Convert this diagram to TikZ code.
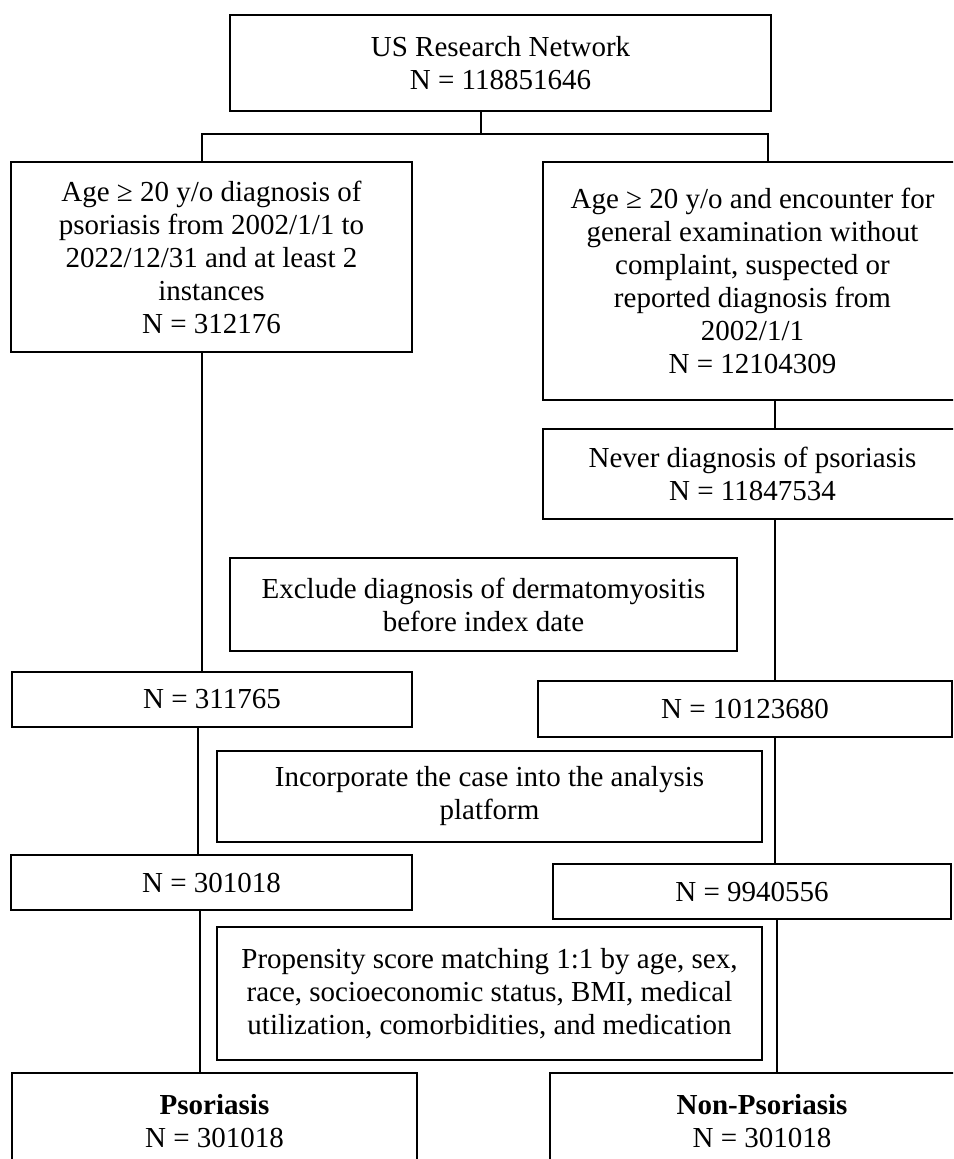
\documentclass[tikz,border=0pt]{standalone}
\usepackage{fontspec}
\setmainfont{Liberation Serif}
\usetikzlibrary{positioning,calc}

\begin{document}
\begin{tikzpicture}[
    x=1pt, y=-1pt,
    box/.style={
      rectangle, draw=black, line width=2pt, fill=white,
      align=center, inner sep=0pt,
      font=\fontsize{29}{33}\selectfont
    },
    link/.style={draw=black, line width=1.8pt}
  ]

  %% Page frame
  \useasboundingbox (0,0) rectangle (953,1159);
  \clip (0,0) rectangle (953,1159);

  %% Column guides
  \coordinate (fork) at (481,134);
  \coordinate (lxa) at (202,0);
  \coordinate (lxb) at (198,0);
  \coordinate (lxc) at (200,0);
  \coordinate (rxa) at (768,0);
  \coordinate (rxb) at (775,0);
  \coordinate (rxc) at (777,0);

  %% Source
  \node[box, minimum width=541, minimum height=96] (us) at (500.5,63)
    {US Research Network\\N = 118851646};

  %% Cohorts
  \node[box, minimum width=401, minimum height=190] (ps) at (211.5,257)
    {Age ≥ 20 y/o diagnosis of\\psoriasis from 2002/1/1 to\\2022/12/31 and at least 2\\instances\\N = 312176};
  \node[box, minimum width=419, minimum height=238] (ctrl) at (752.5,281)
    {Age ≥ 20 y/o and encounter for\\general examination without\\complaint, suspected or\\reported diagnosis from\\2002/1/1\\N = 12104309};
  \node[box, minimum width=419, minimum height=90] (never) at (752.5,474)
    {Never diagnosis of psoriasis\\N = 11847534};

  %% Exclusion step
  \node[box, minimum width=507, minimum height=93] (excl) at (483.5,604.5)
    {Exclude diagnosis of dermatomyositis\\before index date};
  \node[box, minimum width=400, minimum height=55] (nla) at (212,699.5)
    {N = 311765};
  \node[box, minimum width=414, minimum height=56] (nra) at (745,709)
    {N = 10123680};

  %% Platform step
  \node[box, minimum width=545, minimum height=91] (incl) at (489.5,796.5)
    {Incorporate the case into the analysis\\platform};
  \node[box, minimum width=401, minimum height=55] (nlb) at (211.5,882.5)
    {N = 301018};
  \node[box, minimum width=398, minimum height=55] (nrb) at (752,891.5)
    {N = 9940556};

  %% Matching step
  \node[box, minimum width=545, minimum height=133] (psm) at (489.5,993.5)
    {Propensity score matching 1:1 by age, sex,\\race, socioeconomic status, BMI, medical\\utilization, comorbidities, and medication};

  %% Final groups
  \node[box, minimum width=405, minimum height=96] (pso) at (214.5,1121)
    {\textbf{Psoriasis}\\N = 301018};
  \node[box, minimum width=424, minimum height=96] (npso) at (762,1121)
    {\textbf{Non-Psoriasis}\\N = 301018};

  %% Connectors
  \draw[link] (us.south -| fork) -- (fork) -| (ps.north -| lxa);
  \draw[link] (fork) -| (ctrl.north -| rxa);
  \draw[link] (ps.south -| lxa) -- (nla.north -| lxa);
  \draw[link] (nla.south -| lxb) -- (nlb.north -| lxb);
  \draw[link] (nlb.south -| lxc) -- (pso.north -| lxc);
  \draw[link] (ctrl.south -| rxb) -- (never.north -| rxb);
  \draw[link] (never.south -| rxb) -- (nra.north -| rxb);
  \draw[link] (nra.south -| rxb) -- (nrb.north -| rxb);
  \draw[link] (nrb.south -| rxc) -- (npso.north -| rxc);

\end{tikzpicture}
\end{document}
